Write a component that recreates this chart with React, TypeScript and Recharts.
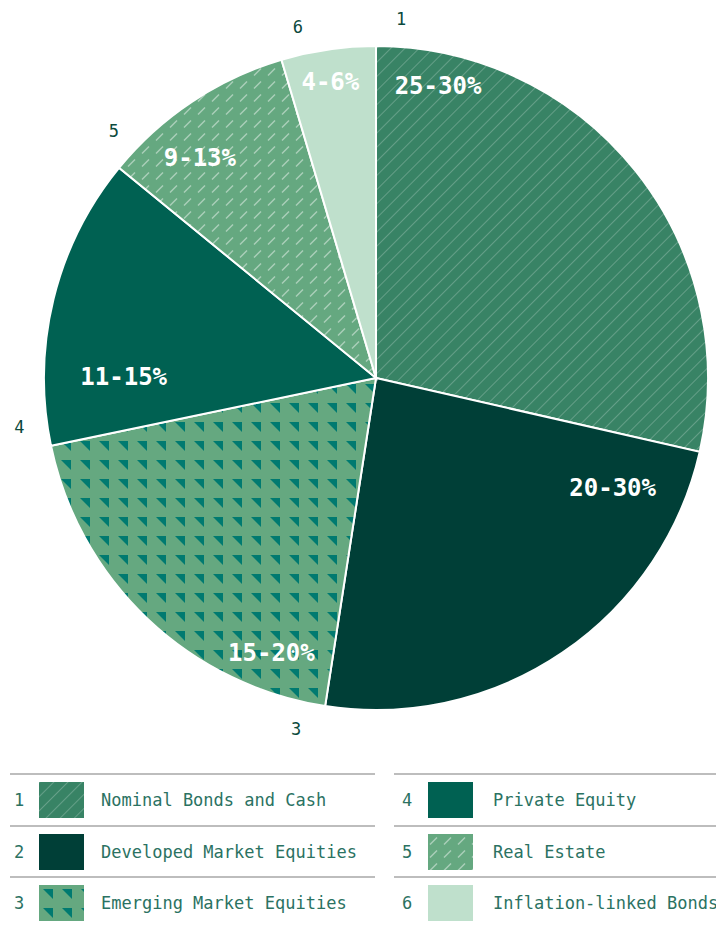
import { Pie, PieChart, Cell } from "recharts";

const categories = [
  "Nominal Bonds and Cash",
  "Developed Market Equities",
  "Emerging Market Equities",
  "Private Equity",
  "Real Estate",
  "Inflation-linked Bonds",
];
const shares = [28.6, 23.9, 19.3, 14.2, 9.5, 4.6];
const ranges = ["25-30%", "20-30%", "15-20%", "11-15%", "9-13%", "4-6%"];

const fills = [
  "url(#p-bonds)",
  "#003f37",
  "url(#p-em)",
  "#006152",
  "url(#p-re)",
  "#bfe0cc",
];

const MONO = '"DejaVu Sans Mono", "Liberation Mono", monospace';
const RAD = Math.PI / 180;

const data = categories.map((name, i) => ({
  name,
  value: shares[i],
  range: ranges[i],
}));

function PatternDefs() {
  return (
    <defs>
      <pattern
        id="p-bonds"
        width="10"
        height="10"
        patternUnits="userSpaceOnUse"
        patternTransform="rotate(45)"
      >
        <rect width="10" height="10" fill="#388365" />
        <line x1="0" y1="0" x2="0" y2="10" stroke="rgba(255,255,255,0.45)" strokeWidth="1" />
      </pattern>
      <pattern id="p-re" width="14" height="13" patternUnits="userSpaceOnUse">
        <rect width="14" height="13" fill="#65a880" />
        <line x1="2" y1="10.5" x2="9" y2="3.5" stroke="rgba(255,255,255,0.45)" strokeWidth="1.5" />
      </pattern>
      <pattern id="p-em" width="19" height="19" patternUnits="userSpaceOnUse">
        <rect width="19" height="19" fill="#65a880" />
        <polygon points="4,4 14,4 14,14" fill="#007a70" />
      </pattern>
    </defs>
  );
}

function renderLabel(props: any) {
  const { cx, cy, startAngle, endAngle, outerRadius, index } = props;
  const sweep = startAngle - endAngle;
  // slice number just outside the rim, a little past the slice start
  const a1 = startAngle - 4;
  const r1 = outerRadius + 28;
  const x1 = cx + r1 * Math.cos(-a1 * RAD);
  const y1 = cy + r1 * Math.sin(-a1 * RAD);
  // range label near the rim; pushed further out towards the top/bottom
  const a2 = startAngle - Math.min(12, sweep * 0.47);
  const s = Math.sin(a2 * RAD);
  const r2 = outerRadius * (0.76 + 0.145 * s * s);
  const x2 = cx + r2 * Math.cos(-a2 * RAD);
  const y2 = cy + r2 * Math.sin(-a2 * RAD);
  return (
    <g>
      <text
        x={x1}
        y={y1}
        textAnchor="middle"
        dominantBaseline="central"
        fill="#0b4a3d"
        fontFamily={MONO}
        fontSize={17}
      >
        {index + 1}
      </text>
      <text
        x={x2}
        y={y2}
        textAnchor="middle"
        dominantBaseline="central"
        fill="#ffffff"
        fontFamily={MONO}
        fontSize={24}
        fontWeight="bold"
      >
        {ranges[index]}
      </text>
    </g>
  );
}

function Swatch({ fill }: { fill: string }) {
  return (
    <svg width={45} height={36} style={{ display: "block" }}>
      <rect width={45} height={36} fill={fill} />
    </svg>
  );
}

function LegendColumn({ start, left, width, numX, swX, txtX }: any) {
  return (
    <div style={{ position: "absolute", left, top: 773, width, overflow: "hidden" }}>
      {categories.slice(start, start + 3).map((name, k) => {
        const i = start + k;
        return (
          <div
            key={name}
            style={{
              position: "relative",
              height: 51.5,
              borderTop: "2px solid #bdbdbd",
              boxSizing: "border-box",
            }}
          >
            <span style={{ position: "absolute", left: numX, top: 15, fontSize: 17, color: "#2b7262", fontFamily: MONO }}>
              {i + 1}
            </span>
            <div style={{ position: "absolute", left: swX, top: 7 }}>
              <Swatch fill={fills[i]} />
            </div>
            <span
              style={{
                position: "absolute",
                left: txtX,
                top: 15,
                fontSize: 17,
                color: "#2b7262",
                fontFamily: MONO,
                whiteSpace: "nowrap",
              }}
            >
              {name}
            </span>
          </div>
        );
      })}
    </div>
  );
}

export default function App() {
  return (
    <div style={{ position: "relative", width: 716, height: 926, overflow: "hidden", background: "#fff" }}>
      <style>{`body{margin:0;overflow:hidden}`}</style>
      <PieChart
        width={716}
        height={770}
        margin={{ top: 0, right: 0, bottom: 0, left: 0 }}
        style={{ position: "absolute", left: 0, top: 0 }}
      >
        <PatternDefs />
        <Pie
          data={data}
          dataKey="value"
          nameKey="name"
          cx={376}
          cy={378}
          outerRadius={332}
          startAngle={90}
          endAngle={-270}
          stroke="#ffffff"
          strokeWidth={2}
          label={renderLabel}
          labelLine={false}
          isAnimationActive={false}
        >
          {data.map((d, i) => (
            <Cell key={d.name} fill={fills[i]} />
          ))}
        </Pie>
      </PieChart>
      <LegendColumn start={0} left={10} width={365} numX={4} swX={29} txtX={91} />
      <LegendColumn start={3} left={394} width={330} numX={8} swX={34} txtX={99} />
    </div>
  );
}
